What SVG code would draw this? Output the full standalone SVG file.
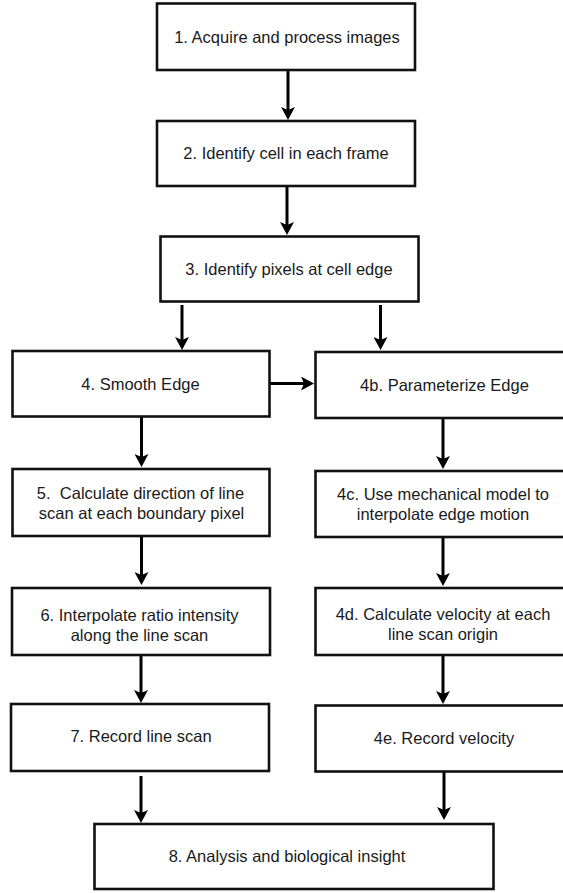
<svg xmlns="http://www.w3.org/2000/svg" width="563" height="893" viewBox="0 0 563 893">
<style>
  .box{fill:#fff;stroke:#111;stroke-width:2.6}
  .lbl{font-family:"Liberation Sans",Arial,Helvetica,sans-serif;font-size:16.5px;fill:#1a1a1a;text-anchor:middle;white-space:pre}
  .con{stroke:#000;stroke-width:3;fill:none;marker-end:url(#ah)}
</style>
<defs>
  <marker id="ah" viewBox="0 0 13 14" refX="4" refY="7" markerWidth="13" markerHeight="14" markerUnits="userSpaceOnUse" orient="auto">
    <path d="M0,0 L13,7 L0,14 L3,7 Z" fill="#000"/>
  </marker>
</defs>
<rect width="563" height="893" fill="#fff"/>
<g id="connectors">
  <line class="con" x1="288" y1="70" x2="288" y2="111"/>
  <line class="con" x1="287" y1="186" x2="287" y2="226"/>
  <line class="con" x1="182" y1="305" x2="182" y2="341"/>
  <line class="con" x1="380.5" y1="305" x2="380.5" y2="341"/>
  <line class="con" x1="270" y1="383.5" x2="305" y2="383.5"/>
  <line class="con" x1="141.5" y1="416" x2="141.5" y2="458"/>
  <line class="con" x1="443" y1="418" x2="443" y2="460"/>
  <line class="con" x1="141.5" y1="536" x2="141.5" y2="576"/>
  <line class="con" x1="443" y1="537" x2="443" y2="577"/>
  <line class="con" x1="141" y1="655" x2="141" y2="694"/>
  <line class="con" x1="443" y1="655" x2="443" y2="695"/>
  <line class="con" x1="141" y1="776" x2="141" y2="814"/>
  <line class="con" x1="444" y1="772" x2="444" y2="811"/>
</g>
<g id="n1"><rect class="box" x="157" y="3.5" width="258" height="66.5"/><text class="lbl" x="287" y="42.5">1. Acquire and process images</text></g>
<g id="n2"><rect class="box" x="157" y="121" width="258" height="65"/><text class="lbl" x="286" y="158.5">2. Identify cell in each frame</text></g>
<g id="n3"><rect class="box" x="160.5" y="236.5" width="258" height="65"/><text class="lbl" x="289" y="274.5">3. Identify pixels at cell edge</text></g>
<g id="n4"><rect class="box" x="12.5" y="351" width="257" height="65.5"/><text class="lbl" x="140.5" y="390">4. Smooth Edge</text></g>
<g id="n4b"><rect class="box" x="315.5" y="352" width="260" height="66"/><text class="lbl" x="444.5" y="391">4b. Parameterize Edge</text></g>
<g id="n5"><rect class="box" x="12.5" y="469" width="257" height="67"/><text class="lbl" x="140.5" y="499">5.  Calculate direction of line</text><text class="lbl" x="141.5" y="519">scan at each boundary pixel</text></g>
<g id="n4c"><rect class="box" x="315.5" y="471" width="260" height="66"/><text class="lbl" x="443" y="500">4c. Use mechanical model to</text><text class="lbl" x="443" y="520">interpolate edge motion</text></g>
<g id="n6"><rect class="box" x="12" y="588" width="258" height="67"/><text class="lbl" x="139.5" y="621">6. Interpolate ratio intensity</text><text class="lbl" x="139.5" y="641">along the line scan</text></g>
<g id="n4d"><rect class="box" x="315.5" y="588" width="260" height="67"/><text class="lbl" x="443" y="620">4d. Calculate velocity at each</text><text class="lbl" x="443" y="640">line scan origin</text></g>
<g id="n7"><rect class="box" x="11" y="704" width="258" height="67"/><text class="lbl" x="141" y="742">7. Record line scan</text></g>
<g id="n4e"><rect class="box" x="315.5" y="705.5" width="260" height="66"/><text class="lbl" x="444" y="744">4e. Record velocity</text></g>
<g id="n8"><rect class="box" x="94.5" y="824" width="399" height="65"/><text class="lbl" x="287" y="862">8. Analysis and biological insight</text></g>
</svg>
